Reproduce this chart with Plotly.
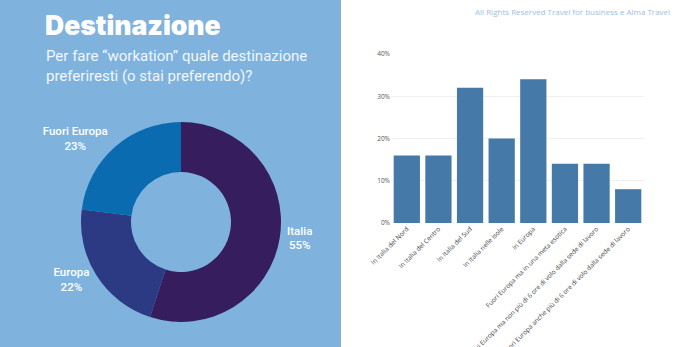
import plotly.graph_objects as go

# Donut data
pie_labels = ["Italia", "Europa", "Fuori Europa"]
pie_values = [55, 22, 23]
pie_colors = ["#361d5e", "#2b3a82", "#0b6bb0"]

# Bar data
bar_categories = [
    "In Italia del Nord",
    "In Italia del Centro",
    "In Italia del Sud",
    "In Italia nelle isole",
    "In Europa",
    "Fuori Europa ma in una meta esotica",
    "Fuori Europa ma non più di 6 ore di volo dalla sede di lavoro",
    "Fuori Europa anche più di 6 ore di volo dalla sede di lavoro",
]
bar_values = [16, 16, 32, 20, 34, 14, 14, 8]
y_ticks = [0, 10, 20, 30, 40]
y_tick_labels = ["0%", "10%", "20%", "30%", "40%"]

W, H = 680, 347
BG = "#7fb3dd"

fig = go.Figure()

fig.add_trace(go.Pie(
    labels=pie_labels,
    values=pie_values,
    hole=0.5,
    sort=False,
    direction="clockwise",
    rotation=0,
    marker=dict(colors=pie_colors, line=dict(width=0)),
    textposition="outside",
    texttemplate="%{label}<br>%{value}%",
    textfont=dict(color="white", size=11.5, family="Roboto", weight=500),
    domain=dict(x=[81 / W, 281 / W], y=[(347 - 322) / H, (347 - 122) / H]),
    showlegend=False,
))

fig.add_trace(go.Bar(
    x=bar_categories,
    y=bar_values,
    marker=dict(color="#4479a8", line=dict(width=0)),
    xaxis="x",
    yaxis="y",
    showlegend=False,
))

fig.update_layout(
    width=W, height=H,
    margin=dict(l=0, r=0, t=0, b=0, autoexpand=False),
    paper_bgcolor="white",
    plot_bgcolor="white",
    bargap=0.17,
    xaxis=dict(
        domain=[391 / W, 644 / W],
        tickangle=-45,
        tickfont=dict(size=6.5, color="#444444", family="Open Sans"),
        showgrid=False,
        showline=False,
        ticks="",
        automargin=False,
        anchor="y",
    ),
    yaxis=dict(
        domain=[(347 - 223) / H, (347 - 54) / H],
        range=[0, 40],
        tickvals=y_ticks,
        ticktext=y_tick_labels,
        tickfont=dict(size=6.5, color="#555555", family="Open Sans"),
        showgrid=True,
        gridcolor="#f0f0f0",
        gridwidth=1,
        zeroline=False,
        showline=False,
        ticks="",
        automargin=False,
        anchor="x",
    ),
    shapes=[dict(
        type="rect", xref="paper", yref="paper",
        x0=0, x1=341 / W, y0=0, y1=1,
        fillcolor=BG, line=dict(width=0), layer="below",
    )],
    annotations=[
        dict(text="Destinazione", xref="paper", yref="paper",
             x=43 / W, y=1 - 7 / H, xanchor="left", yanchor="top",
             showarrow=False,
             font=dict(family="Inter", size=26.5, color="white", weight=900)),
        dict(text="Per fare “workation” quale destinazione<br>preferiresti (o stai preferendo)?",
             xref="paper", yref="paper",
             x=44 / W, y=1 - 45 / H, xanchor="left", yanchor="top",
             showarrow=False, align="left",
             font=dict(family="Roboto", size=15, color="#f3f6fa")),
        dict(text="All Rights Reserved Travel for business e Alma Travel",
             xref="paper", yref="paper",
             x=672 / W, y=1 - 11 / H, xanchor="right", yanchor="middle",
             showarrow=False,
             font=dict(family="Open Sans", size=8, color="#9fc0e0")),
    ],
)

fig.write_html("out.html")
